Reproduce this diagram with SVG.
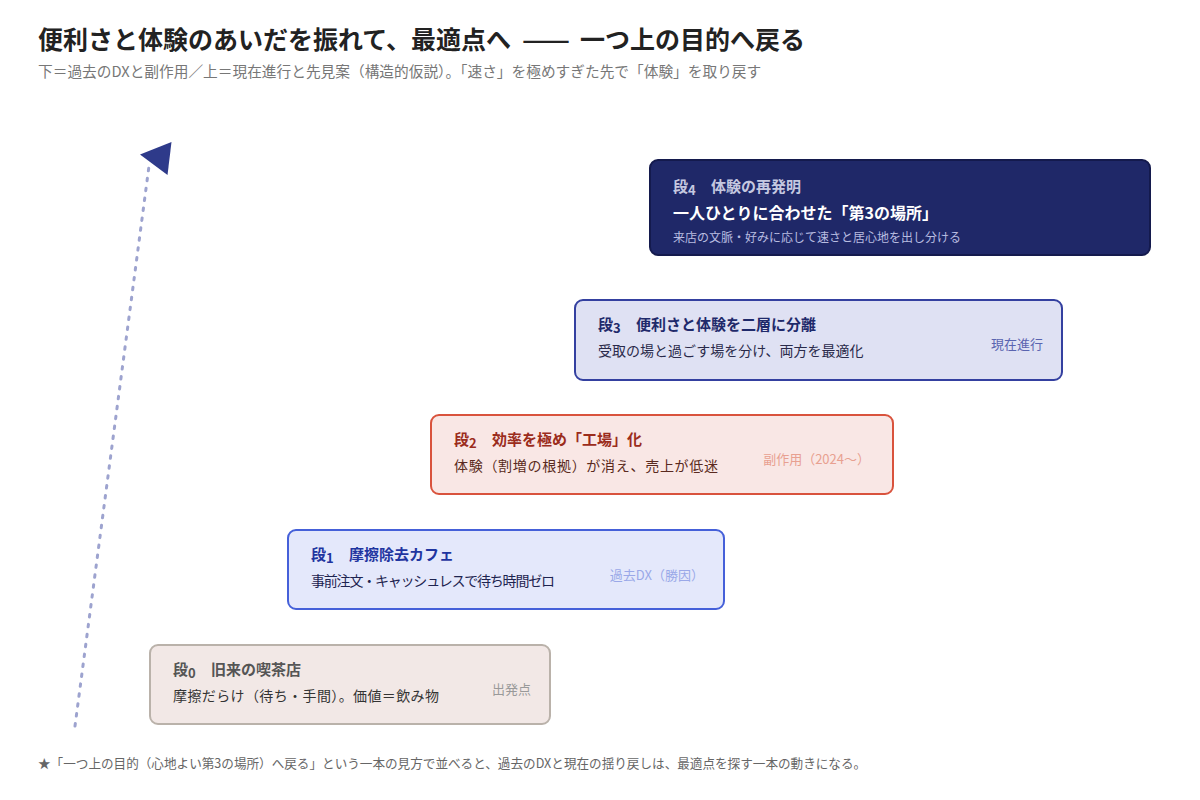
<svg xmlns="http://www.w3.org/2000/svg" width="1200" height="800" viewBox="0 0 1200 800">
<style>
text{font-family:"Noto Sans CJK JP","Noto Sans",sans-serif;}
.title{font-size:25px;font-weight:700;fill:#222;}
.sub{font-size:14.7px;fill:#777;}
.foot{font-size:12.6px;fill:#666;}
.h{font-size:15px;font-weight:700;}
.d{font-size:13px;font-weight:700;}
.b{font-size:14px;}
.r{font-size:13px;text-anchor:end;}
.box{stroke-width:2;}
</style>
<rect width="1200" height="800" fill="#ffffff"/>
<g id="heading">
<text class="title" x="38" y="49">便利さと体験のあいだを振れて、最適点へ</text>
<text class="title" x="522" y="49" textLength="48" lengthAdjust="spacingAndGlyphs" font-weight="400">——</text>
<text class="title" x="580" y="49">一つ上の目的へ戻る</text>
<text class="sub" x="38" y="77">下＝過去のDXと副作用／上＝現在進行と先見案（構造的仮説）。「速さ」を極めすぎた先で「体験」を取り戻す</text>
</g>

<g id="connectors">
<line x1="75" y1="726" x2="149" y2="166" stroke="#9da3cf" stroke-width="3" stroke-linecap="round" stroke-dasharray="2.5 7.5"/>
<polygon points="171.5,142 140,154.5 167.5,175" fill="#2e3a8a"/>
</g>

<g id="step0">
<rect class="box" x="150" y="645" width="400" height="79" rx="8" fill="#f2e8e6" stroke="#bab2aa"/>
<text class="h" x="173" y="675" fill="#555">段</text><text class="d" x="188" y="678" fill="#555">0</text><text class="h" x="211" y="675" fill="#555">旧来の喫茶店</text>
<text class="b" x="173" y="701" fill="#333" textLength="266">摩擦だらけ（待ち・手間）。価値＝飲み物</text>
<text class="r" x="531" y="694" fill="#999">出発点</text>
</g>

<g id="step1">
<rect class="box" x="288" y="530" width="436" height="79" rx="8" fill="#e4e8fb" stroke="#4560d9"/>
<text class="h" x="311" y="560" fill="#1f35a0">段</text><text class="d" x="326" y="563" fill="#1f35a0">1</text><text class="h" x="349" y="560" fill="#1f35a0">摩擦除去カフェ</text>
<text class="b" x="311" y="586" fill="#1e2450" textLength="244">事前注文・キャッシュレスで待ち時間ゼロ</text>
<text class="r" x="704" y="580" fill="#9aa8e8">過去DX（勝因）</text>
</g>

<g id="step2">
<rect class="box" x="431" y="415" width="462" height="79" rx="8" fill="#f9e7e5" stroke="#d9533d"/>
<text class="h" x="454" y="445" fill="#9b2c1c">段</text><text class="d" x="469" y="448" fill="#9b2c1c">2</text><text class="h" x="492" y="445" fill="#9b2c1c">効率を極め「工場」化</text>
<text class="b" x="454" y="471" fill="#5a2a20" textLength="264">体験（割増の根拠）が消え、売上が低迷</text>
<text class="r" x="870" y="464" fill="#e8a090">副作用（2024〜）</text>
</g>

<g id="step3">
<rect class="box" x="575" y="300" width="487" height="80" rx="8" fill="#dfe1f3" stroke="#3440a0"/>
<text class="h" x="598" y="330" fill="#1f2a6b">段</text><text class="d" x="613" y="333" fill="#1f2a6b">3</text><text class="h" x="636" y="330" fill="#1f2a6b">便利さと体験を二層に分離</text>
<text class="b" x="598" y="356" fill="#2a2a4a">受取の場と過ごす場を分け、両方を最適化</text>
<text class="r" x="1043" y="349" fill="#5a64b0">現在進行</text>
</g>

<g id="step4">
<rect class="box" x="650" y="160" width="500" height="95" rx="8" fill="#1f2868" stroke="#141a4d"/>
<text class="h" x="673" y="192" fill="#c5c8e0">段</text><text class="d" x="688" y="195" fill="#c5c8e0">4</text><text class="h" x="711" y="192" fill="#c5c8e0">体験の再発明</text>
<text x="673" y="219" font-size="16" font-weight="700" fill="#ffffff">一人ひとりに合わせた「第3の場所」</text>
<text x="673" y="242" font-size="12" fill="#b8bce0">来店の文脈・好みに応じて速さと居心地を出し分ける</text>
</g>

<text class="foot" x="38" y="768">★「一つ上の目的（心地よい第3の場所）へ戻る」という一本の見方で並べると、過去のDXと現在の揺り戻しは、最適点を探す一本の動きになる。</text>
</svg>
